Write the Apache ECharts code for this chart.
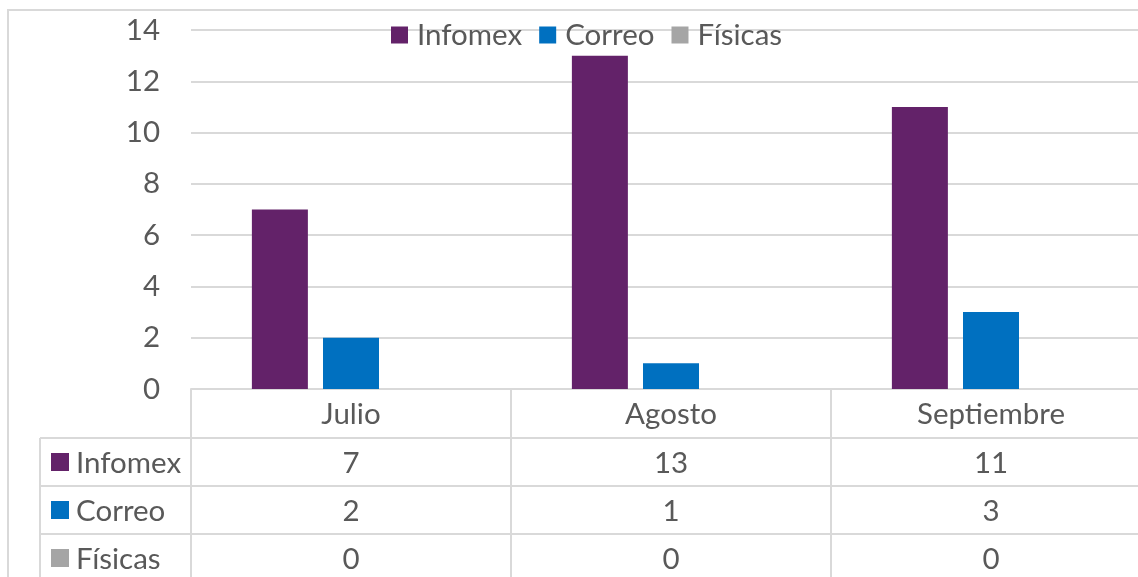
<!DOCTYPE html>
<html>
<head>
<meta charset="utf-8">
<script src="https://cdn.jsdelivr.net/npm/echarts@6/dist/echarts.min.js"></script>
<style>
  html, body { margin: 0; padding: 0; background: #fff; }
  #chart { width: 1138px; height: 577px; }
</style>
</head>
<body>
<div id="chart"></div>
<script>
const months = ["Julio", "Agosto", "Septiembre"]
const seriesNames = ["Infomex", "Correo", "Físicas"]
const infomex = [7, 13, 11]
const correo = [2, 1, 3]
const fisicas = [0, 0, 0]
const yTicks = { min: 0, max: 14, interval: 2 }

const colors = ["#632269", "#0070C0", "#A5A5A5"]
const textColor = "#595959"
const lineColor = "#d9d9d9"
const font = "Lato"
const fontSize = 29.5

// layout
const gridLeft = 191
const gridTop = 30
const gridHeight = 359
const gridWidth = 960
const rowH = 48
const tableLeft = 40

const chart = echarts.init(document.getElementById("chart"))
const values = [infomex, correo, fisicas]
const axisY = gridTop + gridHeight

// one extra x axis per table row, its labels show the values
const rowAxes = values.map((vals, i) => ({
  type: "category",
  data: months,
  position: "bottom",
  offset: rowH * (i + 1) + 1,
  axisLine: { show: true, lineStyle: { color: lineColor, width: 2 } },
  axisTick: { show: false },
  axisLabel: {
    margin: 10,
    color: textColor,
    fontFamily: font,
    fontSize: fontSize,
    formatter: (v, idx) => String(vals[idx]),
  },
}))

const tableGraphics = []
values.forEach((vals, i) => {
  const top = axisY + rowH * (i + 1) + 1
  tableGraphics.push({
    type: "line",
    shape: { x1: tableLeft, y1: top, x2: gridLeft, y2: top },
    style: { stroke: lineColor, lineWidth: 2 },
  })
  tableGraphics.push({
    type: "rect",
    shape: { x: 51, y: top + 15, width: 18, height: 18 },
    style: { fill: colors[i] },
  })
  tableGraphics.push({
    type: "text",
    x: 76,
    y: top + 25,
    style: {
      text: seriesNames[i],
      fill: textColor,
      font: `${fontSize}px ${font}`,
      verticalAlign: "middle",
    },
  })
})
tableGraphics.push({
  type: "line",
  shape: { x1: tableLeft, y1: axisY + rowH + 1, x2: tableLeft, y2: 600 },
  style: { stroke: lineColor, lineWidth: 2 },
})
tableGraphics.push({
  type: "rect",
  shape: { x: 8, y: 10, width: 1300, height: 700 },
  style: { fill: "none", stroke: lineColor, lineWidth: 2 },
})

chart.setOption({
  animation: false,
  legend: {
    data: seriesNames,
    left: 386,
    top: 15,
    icon: "rect",
    itemWidth: 17,
    itemHeight: 17,
    itemGap: 17,
    textStyle: {
      color: textColor,
      fontFamily: font,
      fontSize: fontSize,
      padding: [0, 0, 0, 4],
    },
  },
  grid: {
    left: gridLeft,
    top: gridTop,
    width: gridWidth,
    height: gridHeight,
    outerBoundsMode: "none",
  },
  xAxis: [
    {
      type: "category",
      data: months,
      axisLine: { show: true, lineStyle: { color: lineColor, width: 2 } },
      axisTick: { show: true, length: 200, lineStyle: { color: lineColor, width: 2 } },
      axisLabel: { margin: 10, color: textColor, fontFamily: font, fontSize: fontSize },
    },
    ...rowAxes,
  ],
  yAxis: {
    type: "value",
    min: yTicks.min,
    max: yTicks.max,
    interval: yTicks.interval,
    axisLine: { show: false },
    axisTick: { show: false },
    axisLabel: { margin: 31, color: textColor, fontFamily: font, fontSize: fontSize },
    splitLine: { lineStyle: { color: lineColor, width: 2 } },
  },
  graphic: tableGraphics,
  series: seriesNames.map((name, i) => ({
    name: name,
    type: "bar",
    data: values[i],
    barWidth: 56,
    barGap: "27%",
    itemStyle: { color: colors[i] },
  })),
})
</script>
</body>
</html>
